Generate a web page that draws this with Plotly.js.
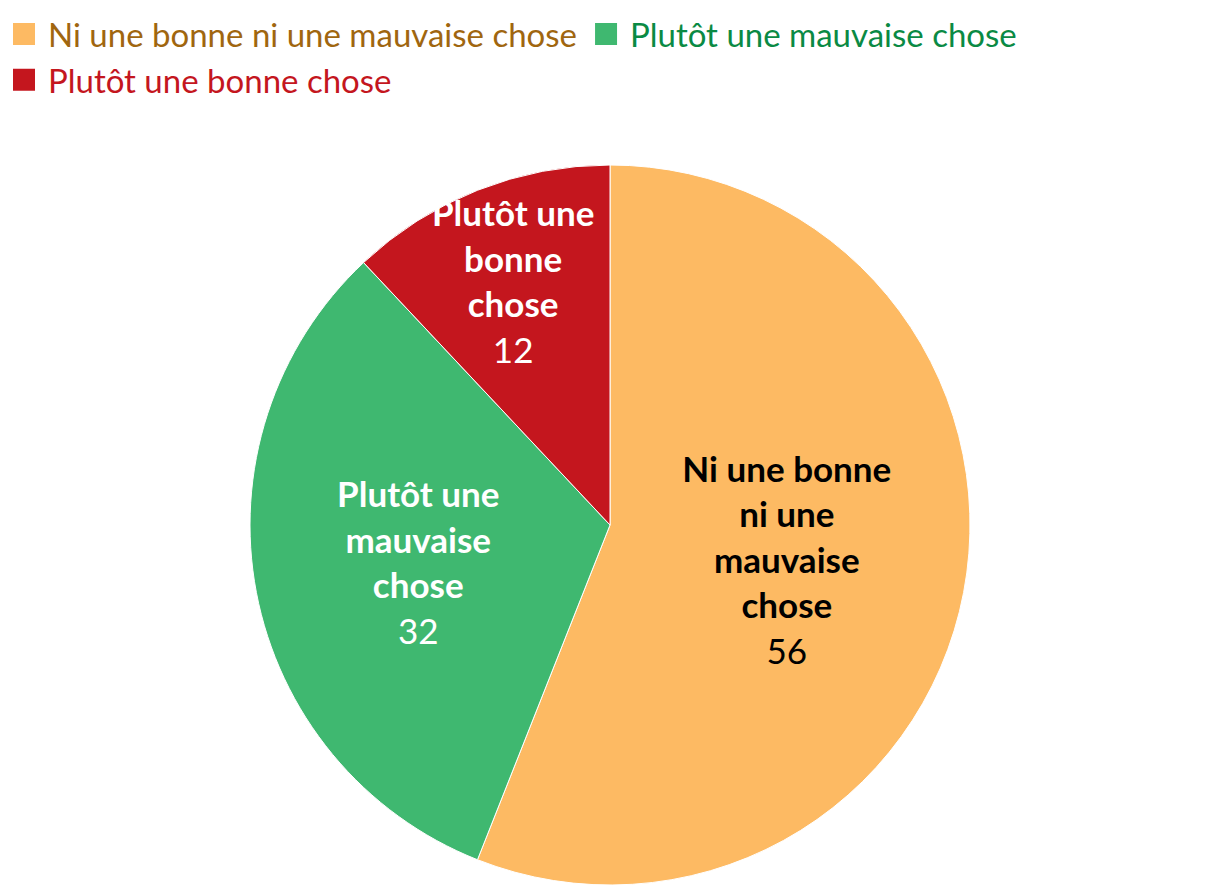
<!DOCTYPE html>
<html>
<head>
<meta charset="utf-8">
<script src="https://cdn.plot.ly/plotly-3.0.1.min.js"></script>
<style>
  html, body { margin: 0; padding: 0; background: #fff; }
  #piefig { width: 1220px; height: 896px; }
</style>
</head>
<body>
<div id="piefig"></div>
<script>
var categories = ['Ni une bonne ni une mauvaise chose', 'Plutôt une mauvaise chose', 'Plutôt une bonne chose'];
var inside_labels = ['Ni une bonne<br>ni une<br>mauvaise<br>chose', 'Plutôt une<br>mauvaise<br>chose', 'Plutôt une<br>bonne<br>chose'];
var values = [56, 32, 12];
var colors = ['#fdba63', '#3fb870', '#c4161e'];
var legend_colors = ['#a0660f', '#0a8a44', '#c4161e'];
var text_colors = ['#000000', '#ffffff', '#ffffff'];

function myfig_pie() {
  // legend text gets the colour of its slice, so wrap each label in a span
  var labels = [];
  for (var i = 0; i < categories.length; i++) {
    labels.push('<span style="color:' + legend_colors[i] + '">' + categories[i] + '</span>');
  }

  var trace = {
    type: 'pie',
    labels: labels,
    values: values,
    customdata: inside_labels,
    sort: false,
    direction: 'clockwise',
    rotation: 0,
    marker: { colors: colors, line: { color: '#ffffff', width: 1 } },
    texttemplate: '<b>%{customdata}</b><br>%{value}',
    textposition: 'inside',
    insidetextorientation: 'horizontal',
    insidetextfont: { family: 'Lato, sans-serif', size: 35, color: text_colors },
    hoverinfo: 'none',
    domain: { x: [250 / 1220, 970 / 1220], y: [11 / 896, 731 / 896] }
  };

  var layout = {
    width: 1220,
    height: 896,
    margin: { l: 0, r: 0, t: 0, b: 0 },
    paper_bgcolor: '#ffffff',
    showlegend: true,
    // keep the small red slice label at full size
    uniformtext: { mode: 'show', minsize: 35 },
    legend: {
      orientation: 'h',
      x: 0,
      xanchor: 'left',
      y: 1 - 6 / 896,
      yanchor: 'top',
      traceorder: 'normal',
      font: { family: 'Lato, sans-serif', size: 33 },
      itemwidth: 38
    }
  };

  Plotly.newPlot('piefig', [trace], layout, { displayModeBar: false, staticPlot: true }).then(function (gd) {
    // pie legend swatches are fixed at 12px, the original uses bigger squares
    var pts = gd.querySelectorAll('.legendpoints path');
    for (var j = 0; j < pts.length; j++) {
      var t = pts[j].getAttribute('transform') || '';
      pts[j].setAttribute('transform', t + ' scale(2)');
    }
  });
}

myfig_pie();
</script>
</body>
</html>
